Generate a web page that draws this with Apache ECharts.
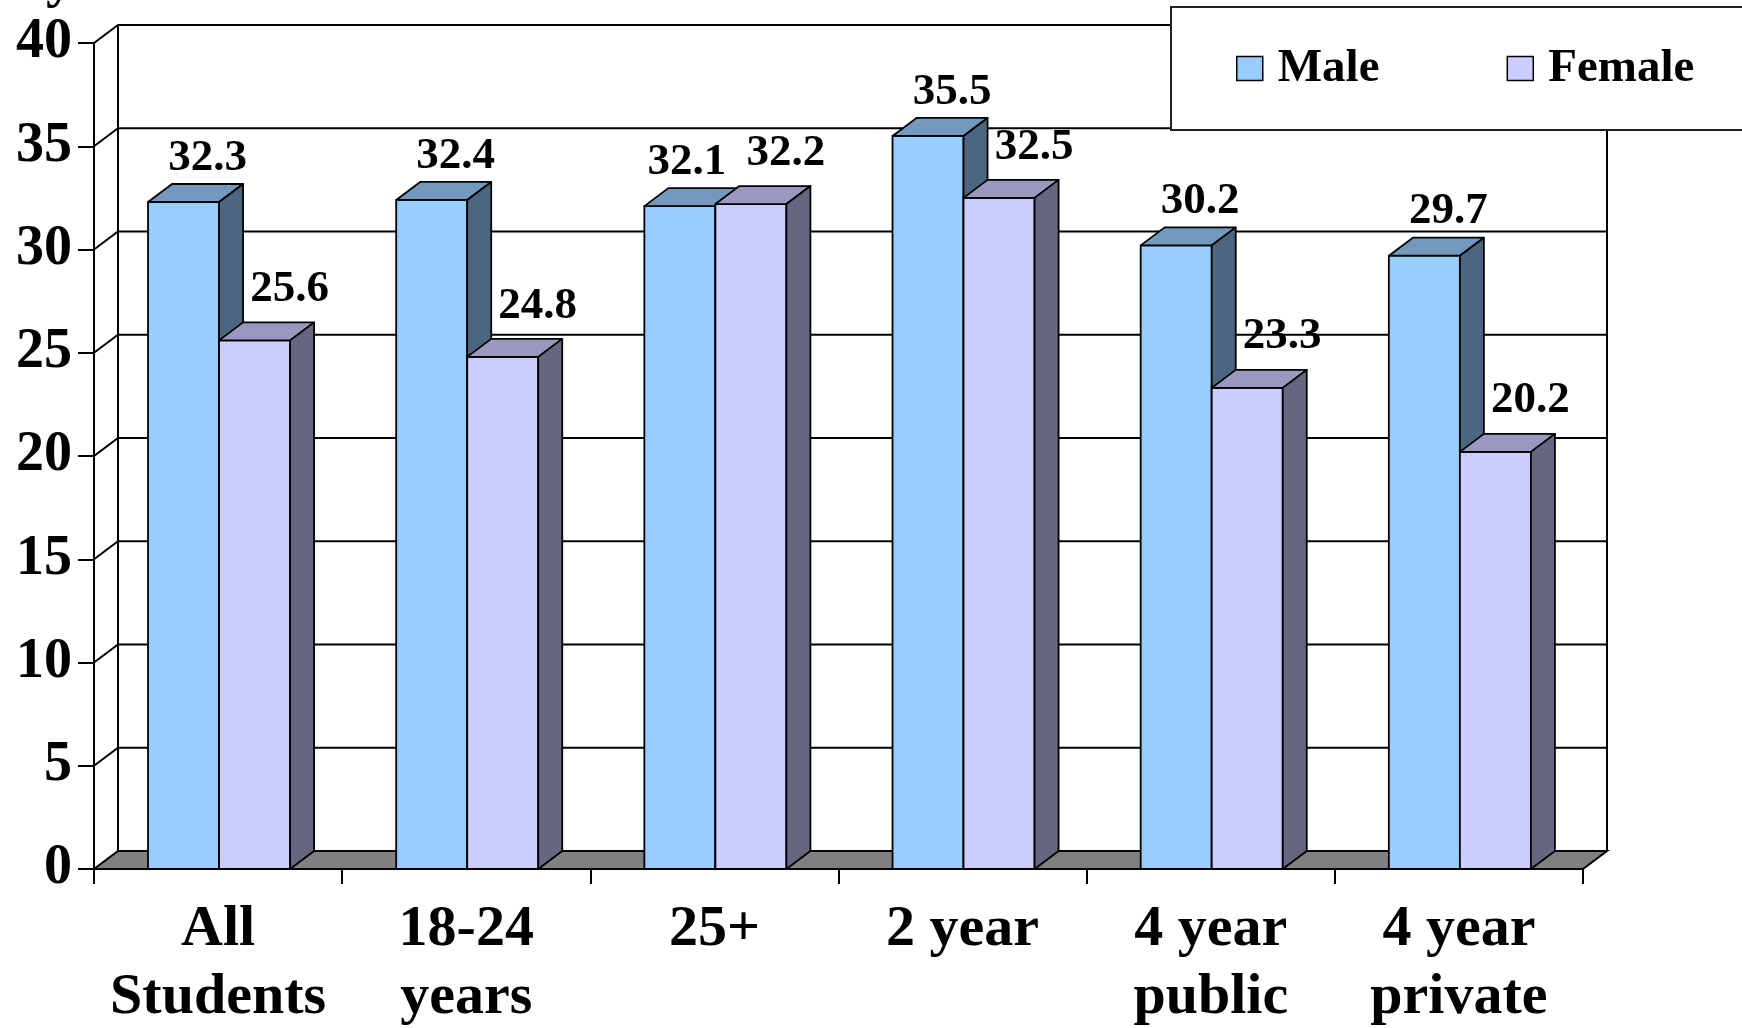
<!DOCTYPE html>
<html>
<head>
<meta charset="utf-8">
<script src="https://cdn.jsdelivr.net/npm/echarts@6/dist/echarts.min.js"></script>
<style>
html,body{margin:0;padding:0;background:#fff;}
#chart{width:1742px;height:1028px;}
</style>
</head>
<body>
<div id="chart"></div>
<script>
// ---- data ----
const categories = ['All\nStudents', '18-24\nyears', '25+', '2 year', '4 year\npublic', '4 year\nprivate'];
const seriesNames = ['Male', 'Female'];
const maleValues = [32.3, 32.4, 32.1, 35.5, 30.2, 29.7];
const femaleValues = [25.6, 24.8, 32.2, 32.5, 23.3, 20.2];
const yTicks = [0, 5, 10, 15, 20, 25, 30, 35, 40];

// ---- style constants ----
const DX = 24, DY = 18;
const FONT = '"Liberation Serif", "Times New Roman", serif';
const palette = {
  Male:   { front: '#99CCFF', top: '#7399BF', side: '#4D6680' },
  Female: { front: '#CCCCFF', top: '#9999BF', side: '#666680' }
};

const chart = echarts.init(document.getElementById('chart'), null, { renderer: 'canvas' });

function wallRender(params, api) {
  const v = api.value(0);
  const cs = params.coordSys;
  const X0 = cs.x, X1 = cs.x + cs.width;
  const y = api.coord([0, v])[1];
  const y0 = api.coord([0, 0])[1];
  const ln = { stroke: '#000', lineWidth: 2, fill: null };
  const children = [];
  if (v === 0) {
    children.push({
      type: 'polygon',
      shape: { points: [[X0, y], [X1, y], [X1 + DX, y - DY], [X0 + DX, y - DY]] },
      style: { fill: '#808080', stroke: '#000', lineWidth: 2 }
    });
  } else {
    children.push({
      type: 'polyline',
      shape: { points: [[X0, y], [X0 + DX, y - DY], [X1 + DX, y - DY]] },
      style: ln
    });
  }
  if (v === yTicks[yTicks.length - 1]) {
    children.push({ type: 'line', shape: { x1: X0 + DX, y1: y - DY, x2: X0 + DX, y2: y0 - DY }, style: ln });
    children.push({ type: 'line', shape: { x1: X1 + DX, y1: y - DY, x2: X1 + DX, y2: y0 - DY }, style: ln });
  }
  return { type: 'group', children: children };
}

function makeBarRender(idx, name, labelDx, labelDy, otherValues) {
  const c = palette[name];
  return function (params, api) {
    const cat = api.value(0), val = api.value(1);
    const base = api.coord([cat, 0]);
    const topP = api.coord([cat, val]);
    const band = api.size([1, 0])[0];
    const bandStart = base[0] - band / 2;
    const w = band * 0.2862;
    const x0 = bandStart + band * 0.2177 + idx * w;
    const x1 = x0 + w;
    const yb = base[1], yt = topP[1];
    const st = { stroke: '#000', lineWidth: 1.8, lineJoin: 'round' };
    // nudge the left label aside when both labels sit at nearly the same height
    let ldx = labelDx;
    if (otherValues && Math.abs(otherValues[cat] - val) < 1) ldx -= 17;
    return {
      type: 'group',
      children: [
        { type: 'rect', shape: { x: x0, y: yt, width: w, height: yb - yt },
          style: Object.assign({ fill: c.front }, st) },
        { type: 'polygon', shape: { points: [[x0, yt], [x1, yt], [x1 + DX, yt - DY], [x0 + DX, yt - DY]] },
          style: Object.assign({ fill: c.top }, st) },
        { type: 'polygon', shape: { points: [[x1, yt], [x1 + DX, yt - DY], [x1 + DX, yb - DY], [x1, yb]] },
          style: Object.assign({ fill: c.side }, st) },
        { type: 'text', x: (x0 + x1) / 2 + DX + ldx, y: yt - DY + labelDy,
          style: { text: val.toFixed(1), fontFamily: FONT, fontWeight: 'bold', fontSize: 45,
                   fill: '#000', align: 'center', verticalAlign: 'middle' } }
      ]
    };
  };
}

const option = {
  backgroundColor: '#fff',
  animation: false,
  grid: { left: 94, right: 159, top: 43, bottom: 159, containLabel: false, outerBoundsMode: 'none' },
  legend: {
    left: 1171, top: 7,
    orient: 'horizontal',
    icon: 'rect',
    itemWidth: 26, itemHeight: 24,
    itemGap: 127,
    padding: [38, 0, 39, 65],
    backgroundColor: 'transparent',
    borderWidth: 0,
    z: 30,
    textStyle: { fontFamily: FONT, fontWeight: 'bold', fontSize: 47, color: '#000', padding: [0, 0, 0, 10] },
    data: [
      { name: seriesNames[0], itemStyle: { color: palette.Male.front, borderColor: '#000', borderWidth: 1.5 } },
      { name: seriesNames[1], itemStyle: { color: palette.Female.front, borderColor: '#000', borderWidth: 1.5 } }
    ]
  },
  xAxis: {
    type: 'category',
    data: categories,
    boundaryGap: true,
    axisLine: { show: true, lineStyle: { color: '#000', width: 2 } },
    axisTick: { show: true, length: 15, interval: 0, alignWithLabel: false, lineStyle: { color: '#000', width: 2 } },
    axisLabel: { interval: 0, fontFamily: FONT, fontWeight: 'bold', fontSize: 58, lineHeight: 68, color: '#000', margin: 27 },
    splitLine: { show: false }
  },
  yAxis: {
    type: 'value',
    min: 0, max: 40, interval: 5,
    axisLine: { show: true, lineStyle: { color: '#000', width: 2 } },
    axisTick: { show: true, length: 16, lineStyle: { color: '#000', width: 2 } },
    axisLabel: { fontFamily: FONT, fontWeight: 'bold', fontSize: 56, color: '#000', margin: 22 },
    splitLine: { show: false }
  },
  graphic: [
    { type: 'rect', z: 20, shape: { x: 1171, y: 7, width: 700, height: 123 },
      style: { fill: '#fff', stroke: '#222', lineWidth: 2 } },
    { type: 'text', z: 20, left: 46, top: -46,
      style: { text: 'y', fontFamily: FONT, fontWeight: 'bold', fontSize: 56, fill: '#000' } }
  ],
  series: [
    { type: 'custom', name: 'wall', z: 1, clip: false, silent: true,
      renderItem: wallRender, data: yTicks.map(function (v) { return [v]; }), encode: { y: 0 } },
    { type: 'custom', name: seriesNames[0], z: 2, clip: false,
      itemStyle: { color: palette.Male.front },
      renderItem: makeBarRender(0, 'Male', 0, -26, femaleValues),
      data: maleValues.map(function (v, i) { return [i, v]; }), encode: { x: 0, y: 1 } },
    { type: 'custom', name: seriesNames[1], z: 3, clip: false,
      itemStyle: { color: palette.Female.front },
      renderItem: makeBarRender(1, 'Female', 11, -33, null),
      data: femaleValues.map(function (v, i) { return [i, v]; }), encode: { x: 0, y: 1 } }
  ]
};
chart.setOption(option);
</script>
</body>
</html>
